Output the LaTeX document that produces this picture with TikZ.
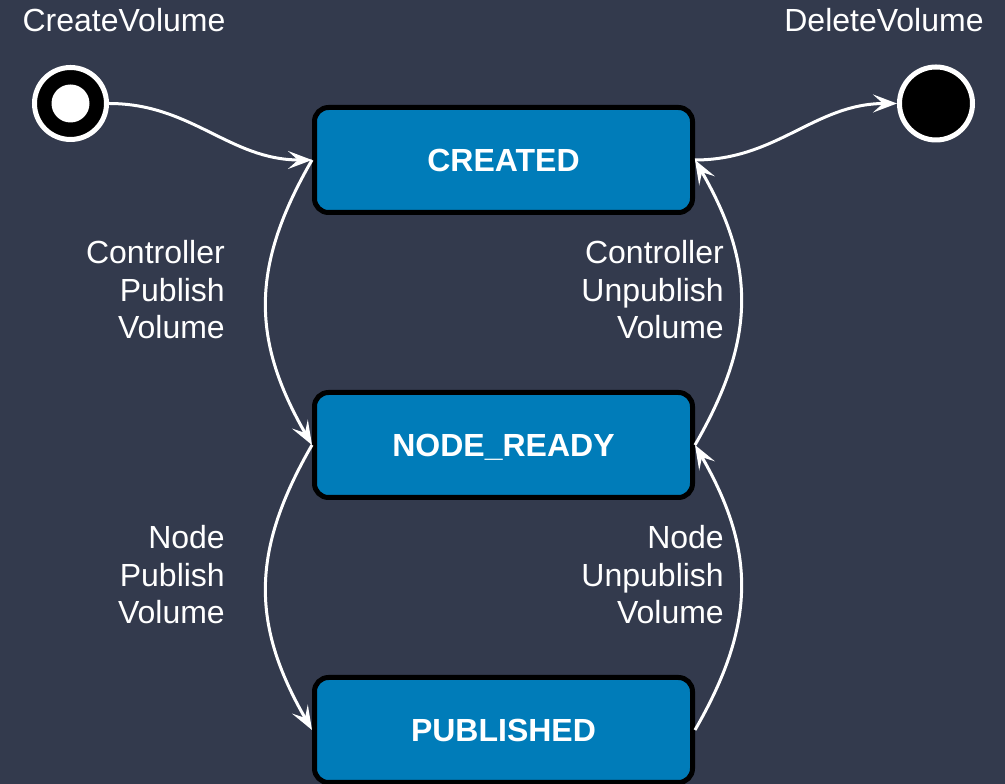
\documentclass[tikz,border=0pt]{standalone}
\usepackage{fontspec}
\setmainfont{Liberation Sans}
\usetikzlibrary{arrows.meta}
\definecolor{bgslate}{RGB}{51,58,77}
\definecolor{stateblue}{RGB}{0,124,185}
\tikzset{
  state/.style={draw=black, line width=5pt, fill=stateblue, rounded corners=14pt,
    minimum width=378pt, minimum height=105pt, text=white,
    text height=23pt, text depth=0pt,
    font=\fontsize{32}{38}\selectfont\bfseries},
  startstate/.style={circle, draw=white, line width=5pt, fill=black, minimum size=72pt,
    inner sep=0pt,
    path picture={\fill[white] (path picture bounding box.center) circle (19pt);}},
  endstate/.style={circle, draw=white, line width=5pt, fill=black, minimum size=73pt,
    inner sep=0pt},
  lbl/.style={text=white, inner sep=0pt, align=right,
    font=\fontsize{32}{37.5}\selectfont},
  trans/.style={draw=white, line width=3pt,
    -{Stealth[length=24pt, width=18pt, inset=10pt]}}
}
\begin{document}
\begin{tikzpicture}[x=1pt, y=1pt]
  \fill[bgslate] (0,0) rectangle (1005,784);
  \useasboundingbox (0,0) rectangle (1005,784);

  % states
  \node[state] (created)   at (503.5,624) {CREATED};
  \node[state] (nodeready) at (503.5,339) {NODE\_READY};
  \node[state] (published) at (503.5,54)  {PUBLISHED};

  % pseudo states
  \node[startstate] (init) at (70.5,680.5) {};
  \node[endstate]   (fin)  at (936,680.5) {};
  \node[lbl, anchor=base] (initlbl) at (124,752) {CreateVolume};
  \node[lbl, anchor=base] (finlbl)  at (884,752) {DeleteVolume};

  % transitions
  \draw[trans] (init.east) to[out=0, in=180] (created.west);
  \draw[trans] (created.east) to[out=0, in=180] (fin.west);
  \draw[trans] (created.west) to[out=-120, in=120, looseness=1.1] (nodeready.west);
  \draw[trans] (nodeready.east) to[out=60, in=-60, looseness=1.1] (created.east);
  \draw[trans] (nodeready.west) to[out=-120, in=120, looseness=1.1] (published.west);
  \draw[trans] (published.east) to[out=60, in=-60, looseness=1.1] (nodeready.east);

  % transition labels
  \node[lbl, anchor=east] (cpub)   at (225,494) {Controller\\Publish\\Volume};
  \node[lbl, anchor=east] (cunpub) at (724,494) {Controller\\Unpublish\\Volume};
  \node[lbl, anchor=east] (npub)   at (225,209) {Node\\Publish\\Volume};
  \node[lbl, anchor=east] (nunpub) at (724,209) {Node\\Unpublish\\Volume};
\end{tikzpicture}
\end{document}
